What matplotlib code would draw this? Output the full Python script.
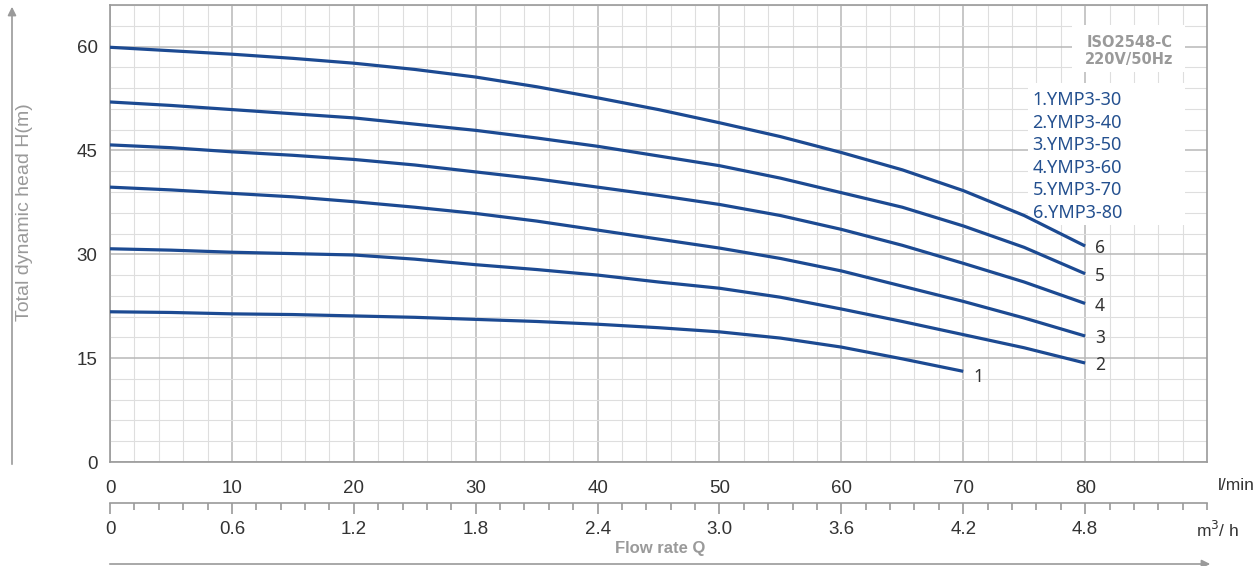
import numpy as np
import matplotlib
matplotlib.use("Agg")
import matplotlib.pyplot as plt
from matplotlib.patches import Rectangle, FancyArrowPatch
from matplotlib.ticker import MultipleLocator

# flow in l/min, head in m
flow = [0, 5, 10, 15, 20, 25, 30, 35, 40, 45, 50, 55, 60, 65, 70, 75, 80]
head_80 = [59.9, 59.4, 58.9, 58.3, 57.6, 56.7, 55.6, 54.2, 52.6, 50.9, 49.0, 47.0, 44.7, 42.2, 39.2, 35.6, 31.2]
head_70 = [52.0, 51.5, 50.9, 50.3, 49.7, 48.8, 47.9, 46.8, 45.6, 44.2, 42.8, 41.0, 38.9, 36.8, 34.1, 31.0, 27.2]
head_60 = [45.8, 45.4, 44.8, 44.3, 43.7, 42.9, 41.9, 40.9, 39.7, 38.5, 37.2, 35.6, 33.6, 31.3, 28.7, 26.0, 22.9]
head_50 = [39.7, 39.3, 38.8, 38.3, 37.6, 36.8, 35.9, 34.8, 33.5, 32.2, 30.9, 29.4, 27.6, 25.4, 23.2, 20.8, 18.2]
head_40 = [30.8, 30.6, 30.3, 30.1, 29.9, 29.3, 28.5, 27.8, 27.0, 26.0, 25.1, 23.8, 22.1, 20.3, 18.4, 16.5, 14.3]
flow_30 = [0, 5, 10, 15, 20, 25, 30, 35, 40, 45, 50, 55, 60, 65, 70]
head_30 = [21.7, 21.6, 21.4, 21.3, 21.1, 20.9, 20.6, 20.3, 19.9, 19.4, 18.8, 17.9, 16.6, 14.9, 13.1]

models = ["1.YMP3-30", "2.YMP3-40", "3.YMP3-50", "4.YMP3-60", "5.YMP3-70", "6.YMP3-80"]
curve_ids = ["1", "2", "3", "4", "5", "6"]
x_ticks = [0, 10, 20, 30, 40, 50, 60, 70, 80]
y_ticks = [0, 15, 30, 45, 60]
m3h_ticks = [0, 0.6, 1.2, 1.8, 2.4, 3.0, 3.6, 4.2, 4.8]
m3h_labels = ["0", "0.6", "1.2", "1.8", "2.4", "3.0", "3.6", "4.2", "4.8"]

blue = "#1c4a92"
grey = "#9a9a9a"
txt = "#333333"

fig = plt.figure(figsize=(12.53, 5.66), dpi=100)
ax = fig.add_axes([0.0878, 0.1837, 0.8755, 0.8074])
ax.set_xlim(0, 90)
ax.set_ylim(0, 66)

ax.xaxis.set_minor_locator(MultipleLocator(2))
ax.yaxis.set_minor_locator(MultipleLocator(3))
ax.set_xticks(x_ticks)
ax.set_yticks(y_ticks)
ax.grid(which="minor", color="#dedede", lw=0.8, zorder=0)
ax.grid(which="major", color="#b8b8b8", lw=1.1, zorder=0)
ax.set_axisbelow(True)
for s in ax.spines.values():
    s.set_color(grey)
    s.set_linewidth(1.2)
ax.tick_params(which="both", length=0)
ax.tick_params(axis="x", pad=13, labelsize=13.5, labelcolor=txt)
ax.tick_params(axis="y", pad=9, labelsize=13.5, labelcolor=txt)
for lab in ax.get_xticklabels() + ax.get_yticklabels():
    lab.set_fontfamily("Liberation Sans")

# white patches behind the notes
ax.add_patch(Rectangle((0.877, 0.853), 0.103, 0.103, transform=ax.transAxes,
                       facecolor="white", edgecolor="none", zorder=1))
ax.add_patch(Rectangle((0.837, 0.519), 0.143, 0.31, transform=ax.transAxes,
                       facecolor="white", edgecolor="none", zorder=1))

series = [(flow_30, head_30), (flow, head_40), (flow, head_50),
          (flow, head_60), (flow, head_70), (flow, head_80)]
for cid, (q, h) in zip(curve_ids, series):
    ax.plot(q, h, color=blue, lw=2.3, zorder=3, solid_capstyle="butt", solid_joinstyle="round")
    dy = -4 if cid == "1" else -1.5
    ax.annotate(cid, (q[-1], h[-1]), xytext=(7, dy), textcoords="offset points",
                ha="left", va="center", fontsize=12.5, color=txt,
                fontfamily="Noto Sans", zorder=4)

ax.text(0.929, 0.919, "ISO2548-C", transform=ax.transAxes, ha="center", va="center",
        fontsize=10.5, color=grey, fontweight="bold", fontfamily="DejaVu Sans", zorder=2)
ax.text(0.929, 0.880, "220V/50Hz", transform=ax.transAxes, ha="center", va="center",
        fontsize=10.5, color=grey, fontweight="bold", fontfamily="DejaVu Sans", zorder=2)
for i, m in enumerate(models):
    ax.text(0.841, 0.792 - i * 0.0492, m, transform=ax.transAxes, ha="left", va="center",
            fontsize=13, color="#24508f", fontfamily="Noto Sans", zorder=2)

# second flow scale in m3/h
sec = ax.secondary_xaxis(-0.0897, functions=(lambda q: q * 0.06, lambda m: m / 0.06))
sec.set_xticks(m3h_ticks)
sec.set_xticklabels(m3h_labels)
sec.xaxis.set_minor_locator(MultipleLocator(0.12))
sec.spines["bottom"].set_color(grey)
sec.spines["bottom"].set_linewidth(1.2)
sec.tick_params(which="major", length=8, width=1.2, color=grey, pad=5,
                labelsize=13.5, labelcolor=txt)
sec.tick_params(which="minor", length=5, width=1.2, color=grey)
for lab in sec.get_xticklabels():
    lab.set_fontfamily("Liberation Sans")

fig.text(1218 / 1253, 1 - 486 / 566, "l/min", ha="left", va="center", fontsize=12.5,
         color=txt, fontfamily="Liberation Sans")
fig.text(1196 / 1253, 1 - 530 / 566, "m$^3$/ h", ha="left", va="center", fontsize=12.5,
         color=txt, fontfamily="Liberation Sans")
fig.text(660 / 1253, 1 - 548 / 566, "Flow rate Q", ha="center", va="center", fontsize=12,
         color=grey, fontweight="bold", fontfamily="Liberation Sans")
fig.text(25 / 1253, 1 - 212 / 566, "Total dynamic head H(m)", ha="center", va="center",
         rotation=90, fontsize=14, color=grey, fontfamily="Liberation Sans")

fig.add_artist(FancyArrowPatch((12 / 1253, 1 - 467 / 566), (12 / 1253, 1 - 4 / 566),
                               transform=fig.transFigure, arrowstyle="-|>,head_length=5,head_width=2.5",
                               color=grey, lw=1.2))
fig.add_artist(FancyArrowPatch((107 / 1253, 1 - 564 / 566), (1213 / 1253, 1 - 564 / 566),
                               transform=fig.transFigure, arrowstyle="-|>,head_length=5,head_width=2.5",
                               color=grey, lw=1.2))

fig.savefig("out.png", dpi=100)
